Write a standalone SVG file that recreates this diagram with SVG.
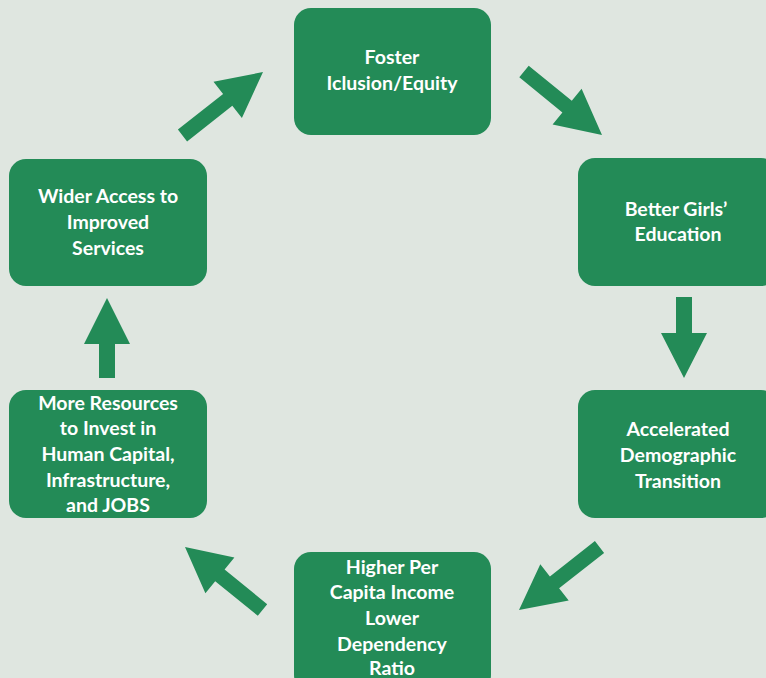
<svg xmlns="http://www.w3.org/2000/svg" width="766" height="678" viewBox="0 0 766 678">
  <style>
    .box { fill: #238B57; }
    .lbl { font-family: Lato, "Liberation Sans", sans-serif; font-weight: bold; font-size: 19.5px; fill: #FFFFFF; text-anchor: middle; }
    .arr { fill: #238B57; }
  </style>
  <rect x="0" y="0" width="766" height="678" fill="#DFE6E0"/>

  <g id="foster">
    <rect class="box" x="294" y="8" width="197" height="127" rx="17"/>
    <text class="lbl" x="392" y="64">Foster</text>
    <text class="lbl" x="392" y="90">Iclusion/Equity</text>
  </g>
  <g id="girls-education">
    <rect class="box" x="578" y="158" width="200" height="128" rx="17"/>
    <text class="lbl" x="676" y="216">Better Girls’</text>
    <text class="lbl" x="678" y="241">Education</text>
  </g>
  <g id="demographic">
    <rect class="box" x="578" y="390" width="200" height="128" rx="17"/>
    <text class="lbl" x="678" y="436">Accelerated</text>
    <text class="lbl" x="678" y="462">Demographic</text>
    <text class="lbl" x="678" y="488">Transition</text>
  </g>
  <g id="income">
    <rect class="box" x="294" y="552" width="197" height="140" rx="17"/>
    <text class="lbl" x="392" y="574">Higher Per</text>
    <text class="lbl" x="392" y="599">Capita Income</text>
    <text class="lbl" x="392" y="625">Lower</text>
    <text class="lbl" x="392" y="651">Dependency</text>
    <text class="lbl" x="392" y="675">Ratio</text>
  </g>
  <g id="resources">
    <rect class="box" x="9" y="390" width="198" height="128" rx="17"/>
    <text class="lbl" x="108" y="410">More Resources</text>
    <text class="lbl" x="108" y="435">to Invest in</text>
    <text class="lbl" x="108" y="461">Human Capital,</text>
    <text class="lbl" x="108" y="487">Infrastructure,</text>
    <text class="lbl" x="108" y="512">and JOBS</text>
  </g>
  <g id="services">
    <rect class="box" x="9" y="159" width="198" height="127" rx="17"/>
    <text class="lbl" x="108" y="203">Wider Access to</text>
    <text class="lbl" x="108" y="229">Improved</text>
    <text class="lbl" x="108" y="255">Services</text>
  </g>

  <g id="connectors">
    <polygon class="arr" points="187.1,141.4 232.3,105.8 241.9,118.0 263,72 213.5,81.8 223.1,94.0 177.9,129.6"/>
    <polygon class="arr" points="528.7,65.7 571.8,100.8 581.6,88.8 602,135 552.6,124.4 562.4,112.4 519.3,77.3"/>
    <polygon class="arr" points="676,297 692,297 692,333 707,333 684,378 661,333 676,333"/>
    <polygon class="arr" points="604.1,552.9 559.1,588.2 568.7,600.4 519,610 540.3,564.2 549.9,576.4 594.9,541.1"/>
    <polygon class="arr" points="267.2,604.2 224.6,569.6 234.4,557.6 185,547 205.4,593.2 215.2,581.2 257.8,615.8"/>
    <polygon class="arr" points="99,378 115,378 115,344 130,344 107,298 84,344 99,344"/>
  </g>
</svg>
